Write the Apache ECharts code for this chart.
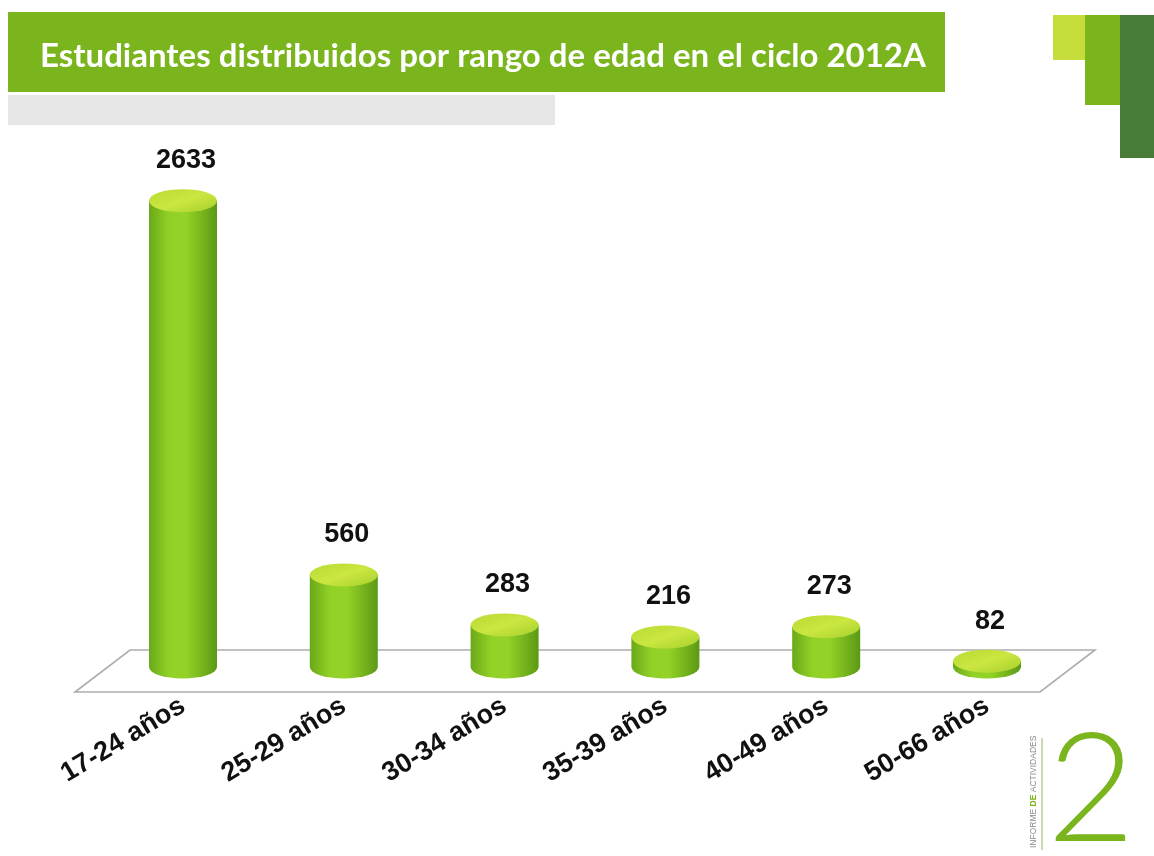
<!DOCTYPE html>
<html>
<head>
<meta charset="utf-8">
<script src="https://cdn.jsdelivr.net/npm/echarts@6/dist/echarts.min.js"></script>
<style>
  html, body { margin: 0; padding: 0; background: #fff; }
  #chart { width: 1154px; height: 856px; }
</style>
</head>
<body>
<div id="chart"></div>
<script>
const titleText = "Estudiantes distribuidos por rango de edad en el ciclo 2012A";
const categories = ["17-24 años", "25-29 años", "30-34 años", "35-39 años", "40-49 años", "50-66 años"];
const students = [2633, 560, 283, 216, 273, 82];

const GREEN = "#7ab51d";

// cylinder drawn from the value on the category axis
function renderCylinder(params, api) {
  const i = api.value(0);
  const v = api.value(1);
  const top = api.coord([i, v]);
  const zero = api.coord([i, 0]);
  const cx = top[0];
  const rx = 34, ry = 11.5;
  const yTop = top[1];
  const yBot = zero[1] - 9;
  const body =
    "M" + (cx - rx) + " " + yTop +
    " L" + (cx - rx) + " " + yBot +
    " A" + rx + " " + ry + " 0 0 0 " + (cx + rx) + " " + yBot +
    " L" + (cx + rx) + " " + yTop + " Z";
  return {
    type: "group",
    children: [
      {
        type: "path",
        shape: { pathData: body },
        style: {
          fill: new echarts.graphic.LinearGradient(0, 0, 1, 0, [
            { offset: 0, color: "#6aa819" },
            { offset: 0.3, color: "#92d226" },
            { offset: 0.55, color: "#93d226" },
            { offset: 1, color: "#5c9915" }
          ])
        }
      },
      {
        type: "circle",
        shape: { cx: 0, cy: 0, r: rx },
        x: cx,
        y: yTop,
        scaleY: ry / rx,
        style: {
          fill: new echarts.graphic.LinearGradient(0, 0, 1, 1, [
            { offset: 0, color: "#b8da34" },
            { offset: 0.5, color: "#cbe640" },
            { offset: 1, color: "#a6d02c" }
          ])
        }
      },
      {
        type: "text",
        x: cx + 3,
        y: yTop - 40,
        style: {
          text: String(v),
          fill: "#111",
          fontSize: 27,
          fontWeight: "bold",
          fontFamily: "Liberation Sans, Arial, sans-serif",
          align: "center",
          verticalAlign: "middle"
        }
      }
    ]
  };
}

const options = {
  animation: false,
  backgroundColor: "#fff",
  grid: {
    left: 102.6,
    right: 86.6,
    top: 134.5,
    bottom: 180,
    containLabel: false,
    outerBoundsMode: "none"
  },
  xAxis: {
    type: "category",
    data: categories,
    axisLine: { show: false },
    axisTick: { show: false },
    splitLine: { show: false },
    axisLabel: {
      interval: 0,
      rotate: 31,
      margin: 28,
      color: "#111",
      fontSize: 27,
      fontWeight: "bold",
      fontFamily: "Liberation Sans, Arial, sans-serif"
    }
  },
  yAxis: {
    type: "value",
    min: 0,
    max: 3000,
    show: false
  },
  graphic: [
    // title banner
    { type: "rect", shape: { x: 8, y: 12, width: 937, height: 80 }, style: { fill: GREEN }, z: 1 },
    { type: "rect", shape: { x: 8, y: 95, width: 547, height: 30 }, style: { fill: "#e6e6e6" }, z: 1 },
    {
      type: "text", x: 40, y: 56, z: 2,
      style: {
        text: titleText, fill: "#fff", fontSize: 33, fontWeight: "bold",
        fontFamily: "Lato, Open Sans, sans-serif", verticalAlign: "middle"
      }
    },
    // corner blocks
    { type: "rect", shape: { x: 1053, y: 15, width: 32, height: 45 }, style: { fill: "#c6dc3a" }, z: 1 },
    { type: "rect", shape: { x: 1085, y: 15, width: 35, height: 90 }, style: { fill: GREEN }, z: 1 },
    { type: "rect", shape: { x: 1120, y: 15, width: 34, height: 143 }, style: { fill: "#477b37" }, z: 1 },
    // floor
    {
      type: "polygon", z: 0,
      shape: { points: [[130, 650], [1095, 650], [1040, 692], [75, 692]] },
      style: { fill: "rgba(255,255,255,0)", stroke: "#adadad", lineWidth: 1.6 }
    },
    // page mark
    { type: "line", z: 1, shape: { x1: 1042, y1: 738, x2: 1042, y2: 850 }, style: { stroke: "#b8cf9a", lineWidth: 1.5 } },
    {
      type: "text", x: 1034, y: 848, rotation: Math.PI / 2, z: 1,
      style: {
        text: "{a|INFORME }{b|DE}{a| ACTIVIDADES}",
        verticalAlign: "middle",
        rich: {
          a: { fontSize: 8.5, fill: "#8a8a8a", fontFamily: "Liberation Sans, Arial, sans-serif" },
          b: { fontSize: 8.5, fill: GREEN, fontWeight: "bold", fontFamily: "Liberation Sans, Arial, sans-serif" }
        }
      }
    },
    {
      type: "text", x: 1091, y: 792, z: 1,
      style: {
        text: "2", fill: GREEN, fontSize: 152, fontWeight: 300,
        fontFamily: "Lato, Open Sans, sans-serif", align: "center", verticalAlign: "middle"
      }
    }
  ],
  series: [
    {
      type: "custom",
      renderItem: renderCylinder,
      encode: { x: 0, y: 1 },
      data: students.map((v, i) => [i, v]),
      z: 5
    }
  ]
};

document.addEventListener("DOMContentLoaded", function () {
  const chart = echarts.init(document.getElementById("chart"));
  chart.setOption(options);
});
</script>
</body>
</html>
